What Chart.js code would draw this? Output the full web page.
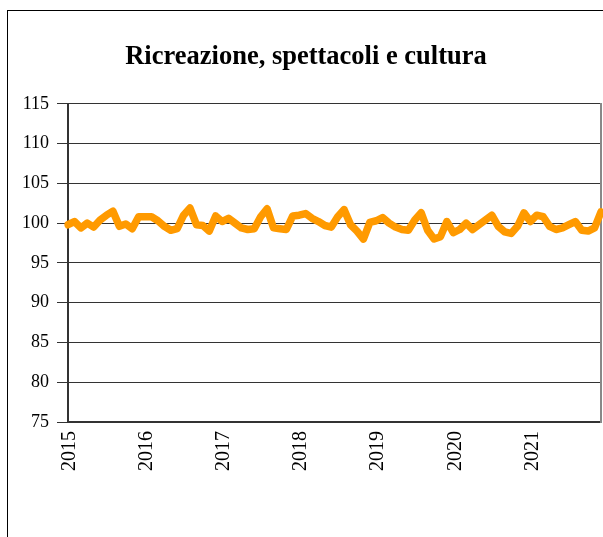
<!DOCTYPE html>
<html><head><meta charset="utf-8">
<script src="https://cdn.jsdelivr.net/npm/chart.js@4"></script>
<style>
html,body{margin:0;padding:0;background:#fff;}
#wrap{position:relative;width:603px;height:537px;overflow:hidden;}
#frame{position:absolute;left:7px;top:10px;width:700px;height:700px;border:1px solid #000;}
canvas{position:absolute;left:0;top:0;}
</style></head><body>
<div id="wrap"><div id="frame"></div><canvas id="c" width="603" height="537"></canvas></div>
<script>
const titleText = 'Ricreazione, spettacoli e cultura';
const years = ['2015','2016','2017','2018','2019','2020','2021'];
const months = ['01','02','03','04','05','06','07','08','09','10','11','12'];
const values = [
  99.8,100.2,99.4,100.0,99.5,100.4,101.0,101.5,99.6,99.9,99.3,100.8,
  100.8,100.8,100.3,99.6,99.1,99.3,101.0,101.9,99.8,99.7,99.0,100.9,
  100.2,100.6,100.0,99.4,99.2,99.3,100.8,101.8,99.4,99.3,99.2,100.9,
  101.0,101.2,100.6,100.2,99.7,99.5,100.8,101.7,99.8,99.0,98.0,100.1,
  100.3,100.7,100.0,99.5,99.2,99.1,100.4,101.3,99.1,98.0,98.3,100.2,
  98.8,99.2,100.0,99.2,99.8,100.4,101.0,99.6,98.9,98.7,99.6,101.3,
  100.2,101.0,100.8,99.6,99.2,99.4,99.8,100.2,99.1,99.0,99.4,101.4
];
const yMin = 75, yMax = 115, yStep = 5;

const categories = [];
years.forEach(y => months.forEach(m => categories.push(y + '-' + m)));

const serif = 'Liberation Serif, Times New Roman, serif';

new Chart(document.getElementById('c'), {
  type: 'line',
  data: {
    labels: categories,
    datasets: [{
      data: values,
      borderColor: '#FF9A00',
      borderWidth: 7.5,
      pointRadius: 0,
      tension: 0,
      borderJoinStyle: 'round',
      borderCapStyle: 'round',
      fill: false
    }]
  },
  options: {
    responsive: false,
    animation: false,
    layout: { padding: { left: 11, right: 2, top: 0, bottom: 0 } },
    plugins: {
      legend: { display: false },
      tooltip: { enabled: false },
      title: {
        display: true,
        text: titleText,
        color: '#000',
        font: { family: serif, size: 26.5, weight: 'bold' },
        padding: { top: 41, bottom: 31 }
      }
    },
    scales: {
      x: {
        type: 'category',
        offset: false,
        grid: { display: false },
        border: { display: true, color: '#333', width: 2 },
        ticks: {
          autoSkip: false,
          minRotation: 90,
          maxRotation: 90,
          padding: 1,
          labelOffset: 2,
          color: '#000',
          font: { family: serif, size: 20 },
          callback: function(v, i) {
            const lab = this.getLabelForValue(v);
            return lab.endsWith('-01') ? lab.slice(0, 4) : '';
          }
        },
        afterFit: s => { s.height = 115; s.paddingLeft = 0; s.paddingRight = 0; }
      },
      y: {
        min: yMin, max: yMax,
        grid: { color: '#333', lineWidth: 1, tickLength: 11, drawTicks: true },
        border: { display: true, color: '#333', width: 2 },
        ticks: {
          stepSize: yStep,
          padding: 8,
          color: '#000',
          font: { family: serif, size: 18 }
        },
        afterFit: s => { s.width = 57; }
      },
      y2: {
        position: 'right',
        min: yMin, max: yMax,
        grid: { display: false },
        border: { display: true, color: '#888', width: 2 },
        ticks: { display: false },
        afterFit: s => { s.width = 0; }
      }
    }
  }
});
</script>
</body></html>
